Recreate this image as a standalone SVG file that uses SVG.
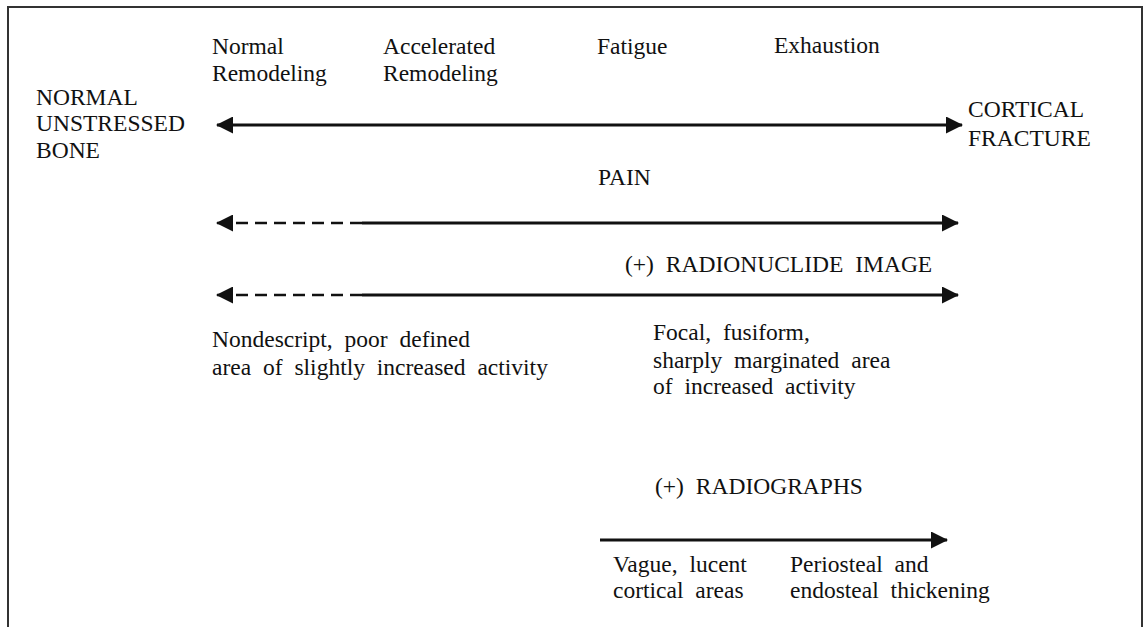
<svg xmlns="http://www.w3.org/2000/svg" width="1147" height="627" viewBox="0 0 1147 627">
<defs>
<style>
text{font-family:'Liberation Serif','Times New Roman',Times,serif;font-size:23.5px;fill:#111;word-spacing:6px}
.ln{stroke:#111;stroke-width:3;fill:none}
.ds{stroke:#111;stroke-width:2.5;fill:none;stroke-dasharray:12 7}
.frame{stroke:#333;stroke-width:2;fill:none}
</style>
<marker id="ah" viewBox="0 0 17 17" refX="16" refY="8.5" markerWidth="17" markerHeight="17" markerUnits="userSpaceOnUse" orient="auto-start-reverse">
<path d="M0,0 L17,8.5 L0,17 Z" fill="#111"/>
</marker>
</defs>
<rect width="1147" height="627" fill="#fff"/>
<path class="frame" d="M8,627 V7 H1142 V627"/>
<g id="stages">
<text x="212" y="54">Normal</text>
<text x="212" y="81">Remodeling</text>
<text x="383" y="54">Accelerated</text>
<text x="383" y="81">Remodeling</text>
<text x="597" y="54">Fatigue</text>
<text x="774" y="53">Exhaustion</text>
</g>
<g id="normal-bone">
<text x="36" y="105">NORMAL</text>
<text x="36" y="131">UNSTRESSED</text>
<text x="36" y="158">BONE</text>
</g>
<g id="cortical-fracture">
<text x="968" y="117">CORTICAL</text>
<text x="968" y="146">FRACTURE</text>
</g>
<g id="pain"><text x="598" y="185">PAIN</text></g>
<g id="radionuclide"><text x="625" y="272">(+) RADIONUCLIDE IMAGE</text></g>
<g id="nondescript">
<text x="212" y="347">Nondescript, poor defined</text>
<text x="212" y="375">area of slightly increased activity</text>
</g>
<g id="focal">
<text x="653" y="340">Focal, fusiform,</text>
<text x="653" y="368">sharply marginated area</text>
<text x="653" y="394">of increased activity</text>
</g>
<g id="radiographs"><text x="655" y="494">(+) RADIOGRAPHS</text></g>
<g id="vague">
<text x="613" y="572">Vague, lucent</text>
<text x="613" y="598">cortical areas</text>
</g>
<g id="periosteal">
<text x="790" y="572">Periosteal and</text>
<text x="790" y="598">endosteal thickening</text>
</g>
<g id="connectors">
<line class="ln" x1="217" y1="125" x2="962" y2="125" marker-start="url(#ah)" marker-end="url(#ah)"/>
<line class="ds" x1="217" y1="223" x2="364" y2="223" marker-start="url(#ah)"/>
<line class="ln" x1="362" y1="223" x2="958" y2="223" marker-end="url(#ah)"/>
<line class="ds" x1="217" y1="295" x2="364" y2="295" marker-start="url(#ah)"/>
<line class="ln" x1="362" y1="295" x2="958" y2="295" marker-end="url(#ah)"/>
<line class="ln" x1="600" y1="540" x2="947" y2="540" marker-end="url(#ah)"/>
</g>
</svg>
